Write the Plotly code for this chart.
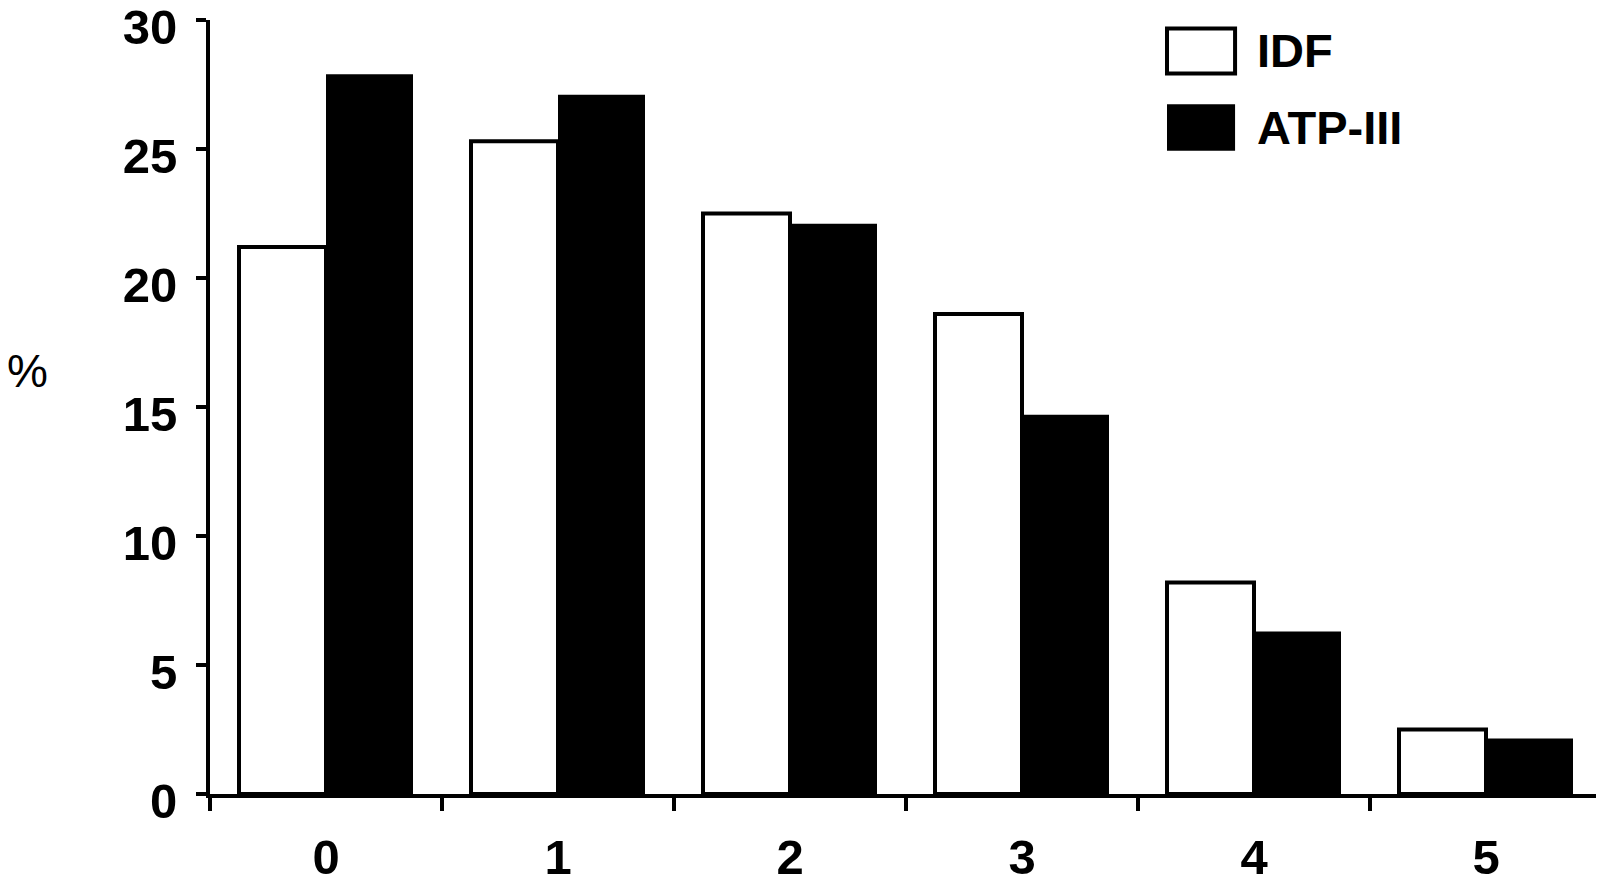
import plotly.graph_objects as go

# number of components vs % of subjects
categories = ['0', '1', '2', '3', '4', '5']
idf = [21.2, 25.3, 22.5, 18.6, 8.2, 2.5]
atp = [27.9, 27.1, 22.1, 14.7, 6.3, 2.15]

FONT = 'Liberation Sans'

fig = go.Figure()
fig.add_trace(go.Bar(x=categories, y=idf, name='IDF',
                     marker=dict(color='white', line=dict(color='black', width=4))))
fig.add_trace(go.Bar(x=categories, y=atp, name='ATP-III',
                     marker=dict(color='black', line=dict(color='black', width=0))))

# page body has an 8px margin, so the figure is a bit smaller than the window
fig.update_layout(
    width=1596, height=888, autosize=False,
    margin=dict(l=202, r=2, t=12, b=102),
    plot_bgcolor='white', paper_bgcolor='white',
    barmode='group', bargap=0.25, bargroupgap=0,
    showlegend=False,
    font=dict(family=FONT, color='black'),
)
fig.update_xaxes(
    type='category', tickson='boundaries', automargin=False,
    showline=True, linecolor='black', linewidth=4,
    ticks='outside', ticklen=13, tickwidth=4, tickcolor='black',
    tickfont=dict(size=49, family=FONT, weight='bold'),
    ticklabelstandoff=17,
    showgrid=False, zeroline=False,
)
fig.update_yaxes(
    range=[0, 30], tickvals=[0, 5, 10, 15, 20, 25, 30], automargin=False,
    ticklabeloverflow='allow', ticklabelshift=7,
    showline=True, linecolor='black', linewidth=4,
    ticks='outside', ticklen=10, tickwidth=4, tickcolor='black',
    tickfont=dict(size=49, family=FONT, weight='bold'),
    ticklabelstandoff=9,
    showgrid=False, zeroline=False,
)

# custom legend with big swatches
fig.add_shape(type='rect', xref='paper', yref='paper', x0=0.6875, x1=0.7364, y0=0.931, y1=0.989,
              line=dict(color='black', width=4), fillcolor='white')
fig.add_shape(type='rect', xref='paper', yref='paper', x0=0.6875, x1=0.7364, y0=0.831, y1=0.891,
              line=dict(color='black', width=0), fillcolor='black')
fig.add_annotation(text='IDF', xref='paper', yref='paper', x=0.751, y=0.96,
                   xanchor='left', yanchor='middle', showarrow=False,
                   font=dict(size=47, weight='bold'))
fig.add_annotation(text='ATP-III', xref='paper', yref='paper', x=0.751, y=0.861,
                   xanchor='left', yanchor='middle', showarrow=False,
                   font=dict(size=47, weight='bold'))

# horizontal '%' label on the left
fig.add_annotation(text='%', xref='paper', yref='paper', x=-0.131, y=0.547,
                   xanchor='center', yanchor='middle', showarrow=False,
                   font=dict(size=46))

fig.write_html('out.html')
